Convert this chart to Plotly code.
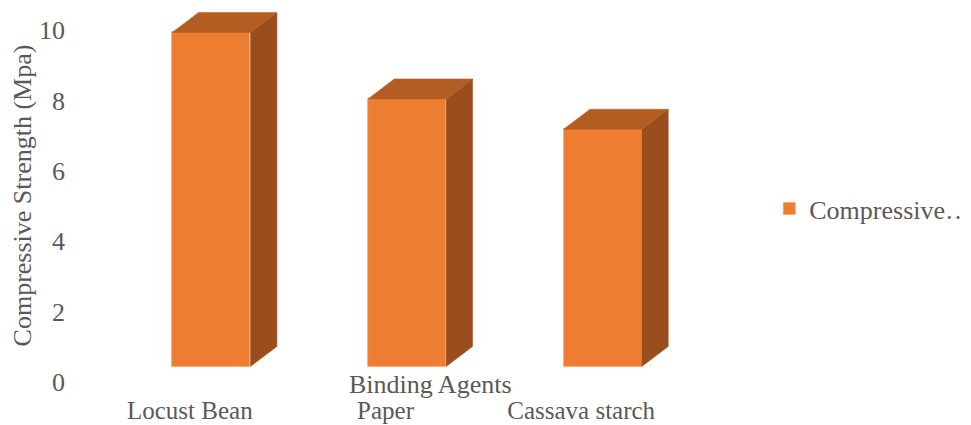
import plotly.graph_objects as go

# ---- data ----
categories = ["Locust Bean", "Paper", "Cassava starch"]
strength = [9.93, 8.04, 7.18]
series_name = "Compressive…"
y_ticks = [0, 2, 4, 6, 8, 10]

# ---- style / geometry constants ----
FRONT = "#ED7D31"
TOP = "#B45D23"
SIDE = "#9A4E1E"
EDGE = "#F3A878"
TEXT = "#595959"
FONT = "Liberation Serif"
FS = 26
BAR_W = 0.40
BAR_OFF = -0.09
FLOOR = 0.44      # floor of the 3-D box in value units
DX = 0.135        # depth offset (category units)
DY = 0.57         # depth offset (value units)

# page body adds an 8px margin; layout values are in figure coordinates
PAGE_OFF = 8
PX_PER_UNIT = 35.2
ZERO_PX = 382 - PAGE_OFF          # figure y of value 0
TOP_PX = 1
Y_MAX = (ZERO_PX - TOP_PX) / PX_PER_UNIT
PLOT_L = 92 - PAGE_OFF
PLOT_R = 679 - PAGE_OFF

xs = list(range(len(categories)))

fig = go.Figure()

fig.add_trace(go.Bar(
    x=xs, y=[v - FLOOR for v in strength], base=[FLOOR] * len(xs),
    width=BAR_W, offset=BAR_OFF, name=series_name,
    marker=dict(color=FRONT, line=dict(color=EDGE, width=0.8)),
    showlegend=True,
))

top_x, top_y, side_x, side_y = [], [], [], []
for x, v in zip(xs, strength):
    l = x + BAR_OFF
    r = l + BAR_W
    top_x += [l, r, r + DX, l + DX, l, None]
    top_y += [v, v, v + DY, v + DY, v, None]
    side_x += [r, r + DX, r + DX, r, r, None]
    side_y += [FLOOR, FLOOR + DY, v + DY, v, FLOOR, None]

fig.add_trace(go.Scatter(x=side_x, y=side_y, fill="toself", fillcolor=SIDE,
                         mode="lines", line=dict(color=SIDE, width=0.5),
                         showlegend=False, hoverinfo="skip"))
fig.add_trace(go.Scatter(x=top_x, y=top_y, fill="toself", fillcolor=TOP,
                         mode="lines", line=dict(color=TOP, width=0.5),
                         showlegend=False, hoverinfo="skip"))

fig.update_layout(
    width=971, height=425,
    margin=dict(l=PLOT_L, r=971 - PLOT_R, t=TOP_PX, b=425 - ZERO_PX,
                autoexpand=False),
    paper_bgcolor="white", plot_bgcolor="white",
    font=dict(family=FONT, size=FS, color=TEXT),
    xaxis=dict(range=[-0.5, 2.5], tickvals=xs, ticktext=categories,
               tickfont=dict(size=25),
               showgrid=False, zeroline=False, showline=False,
               ticks="", ticklabelstandoff=11, automargin=False,
               fixedrange=True),
    yaxis=dict(range=[0, Y_MAX], tickvals=y_ticks, showgrid=False,
               zeroline=False, showline=False, ticks="",
               ticklabelstandoff=26, automargin=False,
               title=dict(text="Compressive Strength (Mpa)", standoff=0,
                          font=dict(size=FS))),
    legend=dict(xref="container", yref="container", x=0.784, y=0.528,
                xanchor="left", yanchor="middle", itemwidth=30,
                font=dict(size=FS, color=TEXT)),
    annotations=[dict(text="Binding Agents", xref="paper", yref="paper",
                      x=0.5775, y=0, yshift=-2, xanchor="center",
                      yanchor="middle", showarrow=False,
                      font=dict(size=FS, color=TEXT))],
    bargap=0,
)

fig.write_html("out.html")
